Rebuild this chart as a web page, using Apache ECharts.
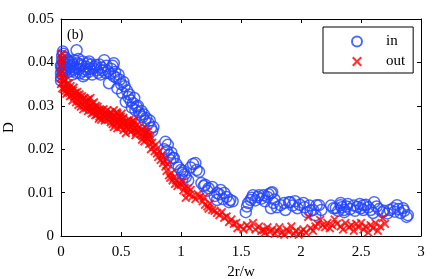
<!DOCTYPE html>
<html>
<head>
<meta charset="utf-8">
<script src="https://cdn.jsdelivr.net/npm/echarts@6/dist/echarts.min.js"></script>
<style>html,body{margin:0;padding:0;background:#fff}#c{width:436px;height:279px}</style>
</head>
<body>
<div id="c"></div>
<script>
// Series "in" (blue circles): [2r/w, D]
const inPoints = [
 [0.00,0.0365],[0.00,0.0375],[0.005,0.0385],[0.005,0.0395],[0.01,0.0405],[0.01,0.0415],[0.015,0.0425],[0.02,0.0420],
 [0.00,0.0358],[0.01,0.0372],[0.00,0.0392],[0.02,0.0382],[0.03,0.0412],[0.025,0.0398],[0.035,0.0378],[0.045,0.0388],
 [0.02,0.0400],[0.03,0.0390],[0.04,0.0410],[0.05,0.0395],[0.06,0.0385],[0.07,0.0400],[0.08,0.0392],[0.09,0.0380],
 [0.10,0.0395],[0.11,0.0405],[0.12,0.0388],[0.13,0.0428],[0.14,0.0398],[0.15,0.0385],[0.16,0.0375],[0.17,0.0392],
 [0.055,0.0405],[0.065,0.0378],[0.075,0.0388],[0.085,0.0402],[0.095,0.0372],[0.105,0.0384],[0.125,0.0376],[0.145,0.0408],
 [0.18,0.0402],[0.19,0.0380],[0.20,0.0372],[0.21,0.0390],[0.22,0.0398],[0.24,0.0385],[0.25,0.0395],[0.26,0.0372],
 [0.165,0.0396],[0.185,0.0368],[0.205,0.0384],[0.23,0.0378],[0.235,0.0402],[0.27,0.0386],[0.29,0.0394],[0.33,0.0372],
 [0.28,0.0390],[0.30,0.0382],[0.31,0.0376],[0.32,0.0395],[0.34,0.0388],[0.36,0.0405],[0.37,0.0376],[0.39,0.0380],
 [0.35,0.0382],[0.38,0.0392],[0.41,0.0374],[0.43,0.0392],[0.44,0.0368],[0.49,0.0360],[0.53,0.0345],[0.57,0.0326],
 [0.40,0.0352],[0.42,0.0385],[0.44,0.0398],[0.45,0.0378],[0.46,0.0365],[0.47,0.0340],[0.48,0.0372],[0.50,0.0350],
 [0.51,0.0330],[0.52,0.0355],[0.54,0.0309],[0.55,0.0335],[0.56,0.0320],[0.58,0.0312],[0.60,0.0306],[0.62,0.0290],
 [0.59,0.0296],[0.61,0.0318],[0.64,0.0300],[0.67,0.0288],[0.69,0.0280],[0.71,0.0272],[0.74,0.0266],[0.76,0.0242],
 [0.63,0.0298],[0.65,0.0285],[0.66,0.0279],[0.68,0.0274],[0.70,0.0266],[0.73,0.0260],[0.75,0.0249],[0.77,0.0251],
 [0.87,0.0217],[0.89,0.0210],[0.90,0.0187],[0.91,0.0175],[0.93,0.0180],[0.94,0.0180],[1.00,0.0152],[1.01,0.0145],
 [0.86,0.0200],[0.88,0.0196],[0.92,0.0192],[0.96,0.0166],[0.98,0.0158],[1.03,0.0142],[1.06,0.0128],[1.08,0.0158],
 [1.02,0.0150],[1.01,0.0130],[1.04,0.0136],[1.10,0.0166],[1.12,0.0168],[1.13,0.0152],[1.15,0.0148],[1.19,0.0115],
 [1.20,0.0118],[1.23,0.0110],[1.26,0.0113],[1.30,0.0099],[1.30,0.0083],[1.33,0.0106],[1.36,0.0099],[1.41,0.0083],
 [1.17,0.0122],[1.22,0.0104],[1.28,0.0092],[1.32,0.0096],[1.38,0.0090],[1.40,0.0078],[1.43,0.0080],[1.35,0.0085],
 [1.54,0.0055],[1.55,0.0068],[1.58,0.0083],[1.60,0.0094],[1.64,0.0090],[1.65,0.0094],[1.69,0.0094],[1.72,0.0090],
 [1.56,0.0076],[1.59,0.0088],[1.62,0.0082],[1.67,0.0086],[1.70,0.0080],[1.73,0.0096],[1.78,0.0084],[1.80,0.0066],
 [1.75,0.0099],[1.76,0.0101],[1.75,0.0064],[1.77,0.0076],[1.83,0.0071],[1.86,0.0076],[1.87,0.0060],[1.90,0.0078],
 [1.91,0.0078],[1.97,0.0064],[2.02,0.0076],[2.05,0.0055],[2.10,0.0060],[2.13,0.0071],[2.15,0.0071],[2.12,0.0048],
 [1.93,0.0070],[1.95,0.0080],[1.99,0.0072],[2.03,0.0066],[2.07,0.0070],[2.08,0.0058],[2.17,0.0060],[2.25,0.0070],
 [2.27,0.0064],[2.29,0.0064],[2.33,0.0071],[2.33,0.0076],[2.36,0.0055],[2.36,0.0060],[2.38,0.0068],[2.47,0.0067],
 [2.31,0.0058],[2.34,0.0066],[2.39,0.0074],[2.41,0.0062],[2.44,0.0070],[2.45,0.0058],[2.49,0.0074],[2.54,0.0072],
 [2.50,0.0064],[2.52,0.0071],[2.52,0.0060],[2.56,0.0066],[2.61,0.0078],[2.60,0.0053],[2.68,0.0055],[2.69,0.0058],
 [2.58,0.0060],[2.63,0.0068],[2.65,0.0062],[2.74,0.0060],[2.77,0.0064],[2.81,0.0062],[2.85,0.0064],[2.78,0.0056],
 [2.72,0.0052],[2.80,0.0071],[2.83,0.0053],[2.86,0.0058],[2.88,0.0044],[2.89,0.0048]
];
// Series "out" (red crosses): [2r/w, D]
const outPoints = [
 [0.00,0.0350],[0.00,0.0365],[0.005,0.0380],[0.005,0.0395],[0.01,0.0410],[0.01,0.0420],[0.005,0.0405],[0.00,0.0375],
 [0.01,0.0340],[0.02,0.0355],[0.03,0.0345],[0.04,0.0335],[0.05,0.0350],[0.06,0.0340],[0.07,0.0330],[0.08,0.0345],
 [0.015,0.0362],[0.025,0.0338],[0.035,0.0358],[0.045,0.0328],[0.055,0.0332],[0.065,0.0352],[0.075,0.0322],[0.085,0.0336],
 [0.09,0.0325],[0.10,0.0335],[0.11,0.0320],[0.12,0.0330],[0.13,0.0315],[0.14,0.0325],[0.15,0.0310],[0.16,0.0320],
 [0.095,0.0312],[0.105,0.0342],[0.115,0.0328],[0.125,0.0308],[0.135,0.0332],[0.145,0.0302],[0.155,0.0326],[0.165,0.0298],
 [0.17,0.0305],[0.18,0.0315],[0.19,0.0300],[0.20,0.0310],[0.21,0.0295],[0.22,0.0305],[0.23,0.0315],[0.24,0.0300],
 [0.175,0.0322],[0.185,0.0292],[0.195,0.0318],[0.215,0.0312],[0.225,0.0288],[0.235,0.0296],[0.245,0.0318],[0.255,0.0282],
 [0.25,0.0290],[0.26,0.0305],[0.27,0.0285],[0.28,0.0295],[0.29,0.0300],[0.30,0.0280],[0.31,0.0290],[0.32,0.0275],
 [0.265,0.0296],[0.275,0.0308],[0.285,0.0278],[0.295,0.0288],[0.305,0.0298],[0.315,0.0270],[0.325,0.0292],[0.335,0.0268],
 [0.33,0.0285],[0.34,0.0290],[0.35,0.0280],[0.36,0.0275],[0.37,0.0285],[0.38,0.0280],[0.40,0.0275],[0.41,0.0285],
 [0.345,0.0278],[0.355,0.0292],[0.365,0.0266],[0.375,0.0272],[0.385,0.0290],[0.395,0.0268],[0.405,0.0280],[0.415,0.0262],
 [0.42,0.0270],[0.43,0.0280],[0.44,0.0290],[0.45,0.0265],[0.46,0.0275],[0.47,0.0282],[0.48,0.0268],[0.50,0.0275],
 [0.435,0.0272],[0.455,0.0258],[0.465,0.0285],[0.475,0.0262],[0.485,0.0276],[0.495,0.0256],[0.505,0.0282],[0.515,0.0270],
 [0.44,0.0251],[0.43,0.0258],[0.47,0.0248],[0.50,0.0252],[0.52,0.0244],[0.55,0.0248],[0.58,0.0240],[0.62,0.0232],
 [0.51,0.0262],[0.52,0.0272],[0.53,0.0255],[0.54,0.0237],[0.55,0.0265],[0.56,0.0258],[0.57,0.0268],[0.58,0.0250],
 [0.525,0.0262],[0.545,0.0252],[0.565,0.0246],[0.585,0.0262],[0.595,0.0244],[0.605,0.0266],[0.615,0.0250],[0.625,0.0238],
 [0.60,0.0255],[0.61,0.0262],[0.62,0.0245],[0.63,0.0255],[0.64,0.0240],[0.65,0.0250],[0.66,0.0235],[0.67,0.0245],
 [0.68,0.0230],[0.69,0.0238],[0.70,0.0228],[0.71,0.0240],[0.72,0.0225],[0.73,0.0232],[0.74,0.0220],[0.75,0.0200],
 [0.675,0.0222],[0.685,0.0246],[0.695,0.0218],[0.705,0.0235],[0.715,0.0226],[0.725,0.0240],[0.735,0.0212],[0.745,0.0228],
 [0.76,0.0215],[0.77,0.0205],[0.78,0.0195],[0.79,0.0210],[0.80,0.0190],[0.81,0.0182],[0.82,0.0195],[0.83,0.0175],
 [0.84,0.0185],[0.85,0.0168],[0.86,0.0175],[0.87,0.0160],[0.88,0.0150],[0.89,0.0165],[0.90,0.0140],[0.91,0.0134],
 [0.92,0.0145],[0.93,0.0128],[0.94,0.0135],[0.95,0.0120],[0.96,0.0128],[0.97,0.0115],[0.98,0.0122],[1.00,0.0118],
 [1.01,0.0125],[1.02,0.0105],[1.03,0.0112],[1.04,0.0088],[1.05,0.0100],[1.06,0.0110],[1.07,0.0095],[1.08,0.0106],
 [1.10,0.0092],[1.12,0.0085],[1.14,0.0096],[1.16,0.0090],[1.18,0.0080],[1.19,0.0088],[1.20,0.0072],[1.22,0.0068],
 [1.23,0.0063],[1.24,0.0075],[1.26,0.0060],[1.28,0.0058],[1.30,0.0053],[1.32,0.0048],[1.34,0.0055],[1.36,0.0042],
 [1.38,0.0045],[1.40,0.0032],[1.42,0.0038],[1.44,0.0028],[1.46,0.0030],[1.47,0.0018],[1.50,0.0022],[1.52,0.0015],
 [1.55,0.0025],[1.57,0.0018],[1.60,0.0030],[1.62,0.0015],[1.65,0.0022],[1.67,0.0012],[1.69,0.0014],[1.70,0.0008],
 [1.72,0.0020],[1.74,0.0010],[1.76,0.0015],[1.78,0.0005],[1.80,0.0012],[1.82,0.0020],[1.84,0.0008],[1.86,0.0003],
 [1.88,0.0015],[1.90,0.0010],[1.92,0.0022],[1.94,0.0005],[1.96,0.0012],[1.98,0.0003],[2.00,0.0010],[2.02,0.0015],
 [2.04,0.0008],[2.06,0.0044],[2.08,0.0018],[2.10,0.0012],[2.12,0.0022],[2.14,0.0028],[2.16,0.0037],[2.18,0.0025],
 [2.20,0.0020],[2.22,0.0030],[2.24,0.0018],[2.26,0.0025],[2.28,0.0038],[2.30,0.0028],[2.33,0.0022],[2.35,0.0015],
 [2.37,0.0030],[2.40,0.0020],[2.42,0.0025],[2.44,0.0012],[2.46,0.0028],[2.48,0.0020],[2.50,0.0030],[2.52,0.0015],
 [2.54,0.0022],[2.56,0.0008],[2.58,0.0025],[2.60,0.0018],[2.62,0.0030],[2.64,0.0012],[2.66,0.0022],[2.68,0.0041],
 [2.70,0.0028]
];
const seriesNames = ['in', 'out'];
const xName = '2r/w';
const yName = 'D';
const panelLabel = '(b)';

const FONT = 'Liberation Serif';
const crossPath = 'path://M0,1.5L1.5,0L5,3.5L8.5,0L10,1.5L6.5,5L10,8.5L8.5,10L5,6.5L1.5,10L0,8.5L3.5,5Z';
const chart = echarts.init(document.getElementById('c'), null, {renderer: 'canvas'});
const axisCommon = {
  axisLine: {show: true, onZero: false, lineStyle: {color: '#000', width: 1}},
  axisTick: {show: true, inside: true, length: 4, lineStyle: {color: '#000'}},
  splitLine: {show: false}
};
chart.setOption({
  animation: false,
  backgroundColor: '#fff',
  textStyle: {fontFamily: FONT},
  grid: {left: 61, right: 15, top: 19, bottom: 43, containLabel: false, outerBoundsMode: 'none'},
  legend: {
    left: 323, top: 27, orient: 'vertical',
    itemWidth: 48, itemHeight: 10, itemGap: 5,
    padding: [7, 8, 4, 28],
    borderColor: '#000', borderWidth: 1, borderRadius: 0,
    textStyle: {fontFamily: FONT, fontSize: 15, color: '#000', lineHeight: 15},
    data: seriesNames
  },
  graphic: [{type: 'text', left: 67, top: 28, style: {text: panelLabel, font: '14px "Liberation Serif"', fill: '#000'}}],
  xAxis: [
    Object.assign({type: 'value', min: 0, max: 3, interval: 0.5, position: 'bottom',
      name: xName, nameLocation: 'middle', nameGap: 26,
      nameTextStyle: {fontFamily: FONT, fontSize: 15, color: '#000'},
      axisLabel: {fontFamily: FONT, fontSize: 15, color: '#000', margin: 9}}, axisCommon),
    Object.assign({type: 'value', min: 0, max: 3, interval: 0.5, position: 'top',
      axisLabel: {show: false}}, axisCommon)
  ],
  yAxis: [
    Object.assign({type: 'value', min: 0, max: 0.05, interval: 0.01, position: 'left',
      name: yName, nameLocation: 'middle', nameGap: 42, nameRotate: 90,
      nameTextStyle: {fontFamily: FONT, fontSize: 15, color: '#000'},
      axisLabel: {fontFamily: FONT, fontSize: 15, color: '#000', margin: 7,
        formatter: v => v === 0 ? '0' : v.toFixed(2)}}, axisCommon),
    Object.assign({type: 'value', min: 0, max: 0.05, interval: 0.01, position: 'right',
      axisLabel: {show: false}}, axisCommon)
  ],
  series: [
    {name: seriesNames[0], type: 'scatter', xAxisIndex: 0, yAxisIndex: 0, clip: false,
     symbol: 'circle', symbolSize: 11, data: inPoints,
     itemStyle: {color: 'rgba(0,0,0,0)', borderColor: '#2244ff', borderWidth: 1.5}},
    {name: seriesNames[1], type: 'scatter', xAxisIndex: 0, yAxisIndex: 0, clip: false,
     symbol: crossPath, symbolSize: 9, data: outPoints,
     itemStyle: {color: '#ff0000'}}
  ]
});
</script>
</body>
</html>
